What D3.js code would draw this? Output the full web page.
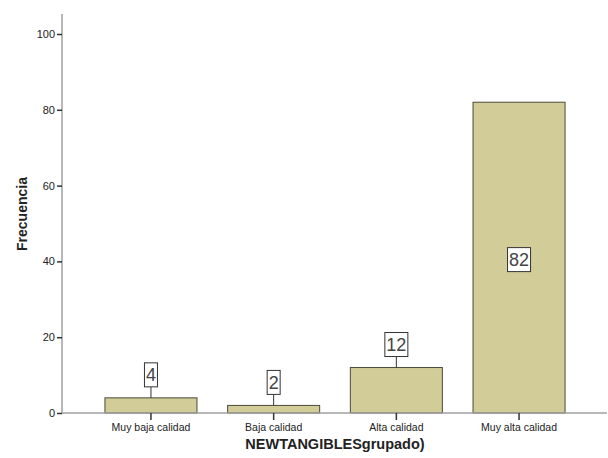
<!DOCTYPE html>
<html><head><meta charset="utf-8">
<script src="https://cdn.jsdelivr.net/npm/d3@7"></script>
<style>body{margin:0;background:#fff}svg{display:block}text{font-family:"Liberation Sans",Arial,sans-serif}</style>
</head><body><svg id="c" width="608" height="458"></svg>
<script>
const categories = ["Muy baja calidad","Baja calidad","Alta calidad","Muy alta calidad"];
const values = [4, 2, 12, 82];
const yTicks = [0, 20, 40, 60, 80, 100];
const xTitle = "NEWTANGIBLESgrupado)";
const yTitle = "Frecuencia";

const svg = d3.select("#c");
const x = d3.scaleBand().domain(categories).range([62, 608]).paddingInner(0.25).paddingOuter(0.35);
const y = d3.scaleLinear().domain([0, 100]).range([413, 34]);

// bars
svg.selectAll("rect.bar").data(values).join("rect")
  .attr("x", (d,i) => x(categories[i]))
  .attr("y", d => y(d))
  .attr("width", x.bandwidth())
  .attr("height", d => y(0) - y(d))
  .attr("fill", "#d2cd98").attr("stroke", "#4a4a3a").attr("stroke-width", 1);

// y axis
const yg = svg.append("g").attr("transform", "translate(62,0)")
  .call(d3.axisLeft(y).tickValues(yTicks).tickSize(5).tickPadding(2));
yg.select(".domain").attr("d", "M0,14V413").attr("stroke", "#a0a0a0").attr("stroke-width", 1.5);
yg.selectAll(".tick line").attr("stroke", "#333").attr("stroke-width", 1.5);
yg.selectAll(".tick text").attr("font-size", 11).attr("fill", "#222");

// x axis
const xg = svg.append("g").attr("transform", "translate(0,413)")
  .call(d3.axisBottom(x).tickSize(7).tickPadding(4));
xg.select(".domain").attr("d", "M62,0H607").attr("stroke", "#a0a0a0").attr("stroke-width", 1.5);
xg.selectAll(".tick line").attr("stroke", "#333").attr("stroke-width", 1.5);
xg.selectAll(".tick text").attr("font-size", 10.5).attr("fill", "#222");

// titles
svg.append("text").attr("x", 335).attr("y", 449).attr("text-anchor", "middle")
  .attr("font-size", 14.5).attr("font-weight", "bold").attr("fill", "#222").text(xTitle);
svg.append("text").attr("transform", "translate(27,214) rotate(-90)").attr("text-anchor", "middle")
  .attr("font-size", 14).attr("font-weight", "bold").attr("fill", "#222").text(yTitle);

// value labels
const lab = svg.selectAll("g.lab").data(values).join("g");
lab.each(function(d, i) {
  const g = d3.select(this);
  const cx = x(categories[i]) + x.bandwidth() / 2;
  const inside = (y(0) - y(d)) > 60;
  const cy = inside ? (y(d) + y(0)) / 2 + 2 : y(d) - 23;
  const w = String(d).length > 1 ? 23 : 13;
  if (!inside) {
    g.append("line").attr("x1", cx).attr("x2", cx).attr("y1", cy + 12).attr("y2", y(d))
      .attr("stroke", "#333").attr("stroke-width", 1);
  }
  g.append("rect").attr("x", cx - w/2).attr("y", cy - 12).attr("width", w).attr("height", 24)
    .attr("fill", "#fff").attr("stroke", "#333").attr("stroke-width", 1);
  g.append("text").attr("x", cx).attr("y", cy + 6.5).attr("text-anchor", "middle")
    .attr("font-size", 18).attr("fill", "#444").text(d);
});
</script></body></html>
